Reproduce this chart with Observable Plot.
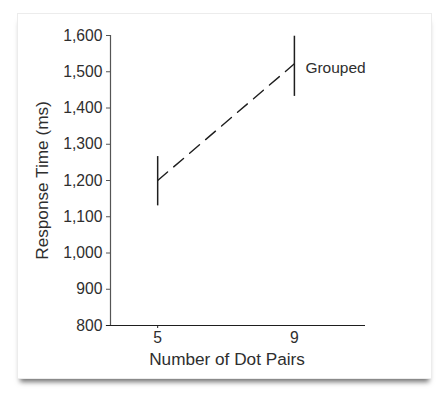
<!DOCTYPE html>
<html>
<head>
<meta charset="utf-8">
<script src="https://cdn.jsdelivr.net/npm/d3@7"></script>
<script src="https://cdn.jsdelivr.net/npm/@observablehq/plot@0.6"></script>
<style>
  html, body { margin: 0; padding: 0; background: #ffffff; }
  #wrap { position: relative; width: 438px; height: 398px; overflow: hidden; }
  #card { position: absolute; left: 17px; top: 13px; width: 413px; height: 364px;
          background: #fff; border: 1px solid #ececec;
          box-shadow: 0 6px 5px -3px rgba(0,0,0,0.55); }
  #chart { position: absolute; left: 0; top: 0; }
  #chart svg { background: transparent; }
</style>
</head>
<body>
<div id="wrap"><div id="card"></div><div id="chart"></div></div>
<script>
const dotPairs = [5, 9];
const meanRT = [1200, 1522];
const lowRT = [1130, 1432];
const highRT = [1266, 1598];
const seriesLabel = "Grouped";
const yTicks = [800, 900, 1000, 1100, 1200, 1300, 1400, 1500, 1600];
const xTicks = [5, 9];
const yLabel = "Response Time (ms)";
const xLabel = "Number of Dot Pairs";

const data = dotPairs.map((d, i) => ({x: d, y: meanRT[i], lo: lowRT[i], hi: highRT[i]}));
const ink = "#1e1e1e";
const textInk = "#2e2e2e";

const chart = Plot.plot({
  width: 438,
  height: 398,
  marginLeft: 110,
  marginRight: 73,
  marginTop: 35,
  marginBottom: 73,
  style: {fontFamily: "'Liberation Sans', Arial, sans-serif", fontSize: "15px", color: textInk, background: "transparent"},
  x: {domain: [3.62, 11.08]},
  y: {domain: [800, 1600]},
  marks: [
    Plot.axisY({ticks: yTicks, tickFormat: d3.format(","), tickSize: 4, tickPadding: 4, stroke: "#555", fontSize: 15.7, fill: textInk, label: null}),
    Plot.axisX({ticks: [xTicks[0]], tickSize: 3, tickPadding: 3, stroke: ink, fontSize: 15.7, fill: textInk, label: null}),
    Plot.axisX({ticks: [xTicks[1]], tickSize: 0, tickPadding: 6, fontSize: 15.7, fill: textInk, label: null}),
    Plot.text([yLabel], {frameAnchor: "left", rotate: -90, dx: -68, textAnchor: "middle", lineAnchor: "middle", fontSize: 17.2, fill: textInk}),
    Plot.text([xLabel], {frameAnchor: "bottom", dx: -11, dy: 34, textAnchor: "middle", lineAnchor: "middle", fontSize: 17.2, fill: textInk}),
    Plot.ruleY([800], {x1: 3.5, x2: 11.08, stroke: ink, strokeWidth: 1.2}),
    Plot.ruleX([3.62], {y1: 800, y2: 1600, stroke: "#555", strokeWidth: 1.2}),
    Plot.line(data, {x: "x", y: "y", stroke: ink, strokeWidth: 1.4, strokeDasharray: "13,8"}),
    Plot.ruleX(data, {x: "x", y1: "lo", y2: "hi", stroke: ink, strokeWidth: 1.5}),
    Plot.text(data.slice(-1), {x: "x", y: "y", text: () => seriesLabel, dx: 11, dy: 4, textAnchor: "start", fontSize: 15.5, fill: textInk})
  ]
});
document.getElementById("chart").appendChild(chart);
</script>
</body>
</html>
